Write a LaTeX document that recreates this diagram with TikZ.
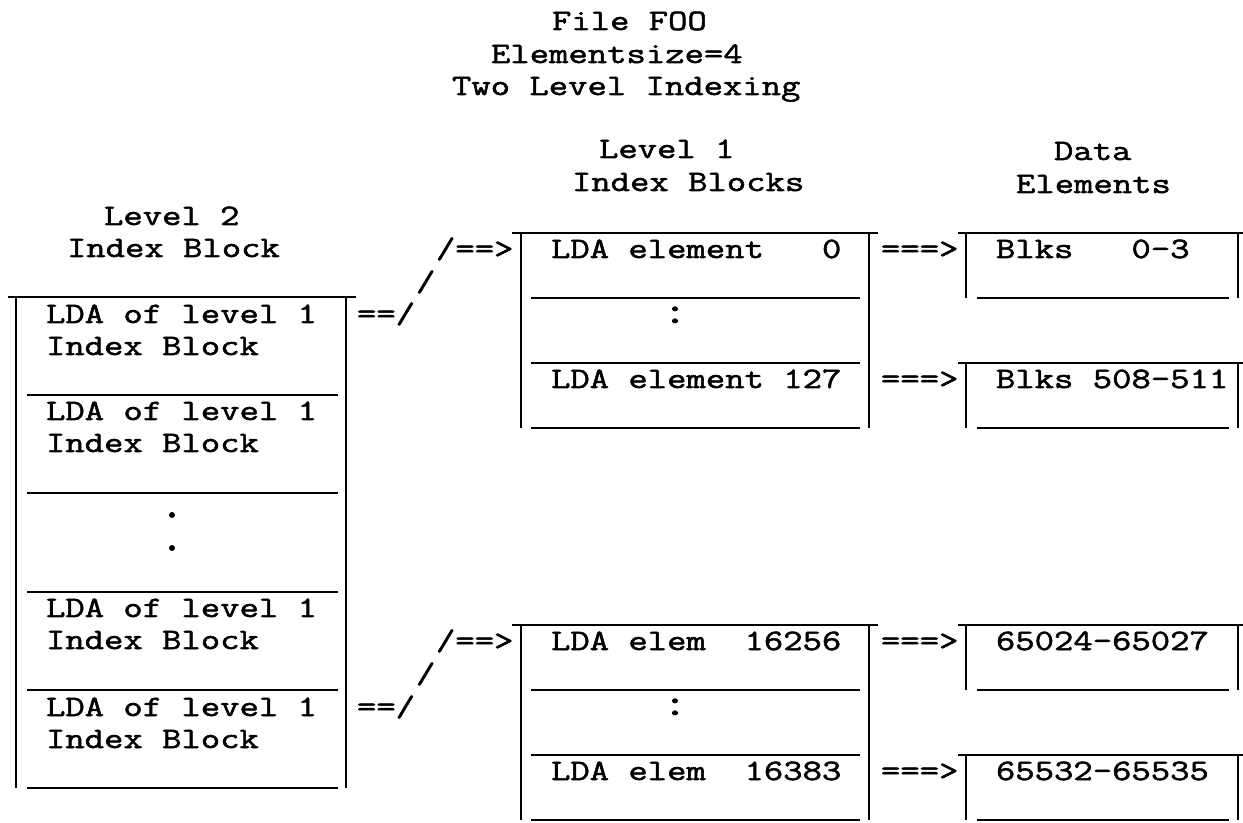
\documentclass[tikz,border=0pt]{standalone}
\usepackage{fontspec}
\setmonofont{Latin Modern Mono}[FakeStretch=1.27,FakeBold=1.8]
\begin{document}
\begin{tikzpicture}[x=0.5pt,y=-0.5pt,line width=1pt,
    txt/.style={anchor=base west,inner sep=0pt,font=\ttfamily\fontsize{14.8}{14.8}\selectfont},
    colon/.style={txt,anchor=base,scale=1.275}]
    \useasboundingbox (0,0) rectangle (1243,823);

    % Titolo
    \node[txt] (title1) at (551,30) {File FOO};
    \node[txt] (title2) at (490,63) {Elementsize=4};
    \node[txt] (title3) at (451,95) {Two Level Indexing};

    % Intestazioni delle colonne
    \node[txt] (lvtwoA) at (103,225) {Level 2};
    \node[txt] (lvtwoB) at (66,257) {Index Block};
    \node[txt] (lvoneA) at (598,158) {Level 1};
    \node[txt] (lvoneB) at (571,191) {Index Blocks};
    \node[txt] (dataA) at (1053,160) {Data};
    \node[txt] (dataB) at (1015,193) {Elements};

    % Blocco indice di livello 2
    \draw (8,297) -- (356,297);
    \draw (16,297) -- (16,788);
    \draw (346,297) -- (346,788);
    \foreach \k in {1,...,5}
        \draw (27,297+98.2*\k) -- (338,297+98.2*\k);
    \node[txt] (ldaA) at (45,323) {LDA of level 1};
    \node[txt] (ldaAb) at (45,355) {Index Block};
    \node[txt] (ldaB) at (45,420) {LDA of level 1};
    \node[txt] (ldaBb) at (45,452) {Index Block};
    \fill (172,515) circle[radius=3];
    \fill (172,548) circle[radius=3];
    \node[txt] (ldaC) at (45,617) {LDA of level 1};
    \node[txt] (ldaCb) at (45,649) {Index Block};
    \node[txt] (ldaD) at (45,716) {LDA of level 1};
    \node[txt] (ldaDb) at (45,748) {Index Block};

    % Frecce verso i blocchi di livello 1
    \node[txt] (linkAa) at (356,323) {==/};
    \node[txt] (linkAb) at (415,291) {/};
    \node[txt] (linkAc) at (435,258) {/==>};
    \node[txt] (linkBa) at (356,716) {==/};
    \node[txt] (linkBb) at (415,683) {/};
    \node[txt] (linkBc) at (435,650) {/==>};

    % Blocchi indice di livello 1
    \foreach \t in {233,625} {
        \draw (512,\t) -- (878,\t);
        \draw (521,\t) -- (521,\t+195);
        \draw (869,\t) -- (869,\t+195);
        \foreach \k in {1,2,3}
            \draw (531,\t+65*\k) -- (860,\t+65*\k);
    }
    \node[txt] (elA) at (550,258) {LDA element~~~0};
    \node[colon] (colA) at (675,323) {:};
    \node[txt] (elB) at (550,388) {LDA element 127};
    \node[txt] (elC) at (550,650) {LDA elem~~16256};
    \node[colon] (colB) at (675,715) {:};
    \node[txt] (elD) at (550,780) {LDA elem~~16383};

    % Frecce verso gli elementi
    \node[txt] (arrA) at (880,258) {===>};
    \node[txt] (arrB) at (880,388) {===>};
    \node[txt] (arrC) at (880,650) {===>};
    \node[txt] (arrD) at (880,780) {===>};

    % Elementi di dati
    \foreach \t in {233,363,625,755} {
        \draw (958,\t) -- (1243,\t);
        \draw (966,\t) -- (966,\t+65);
        \draw (1238,\t) -- (1238,\t+65);
        \draw (977,\t+65) -- (1229,\t+65);
    }
    \node[txt] (blkA) at (995,258) {Blks~~~0-3};
    \node[txt] (blkB) at (995,388) {Blks 508-511};
    \node[txt] (blkC) at (995,650) {65024-65027};
    \node[txt] (blkD) at (995,780) {65532-65535};
\end{tikzpicture}
\end{document}
